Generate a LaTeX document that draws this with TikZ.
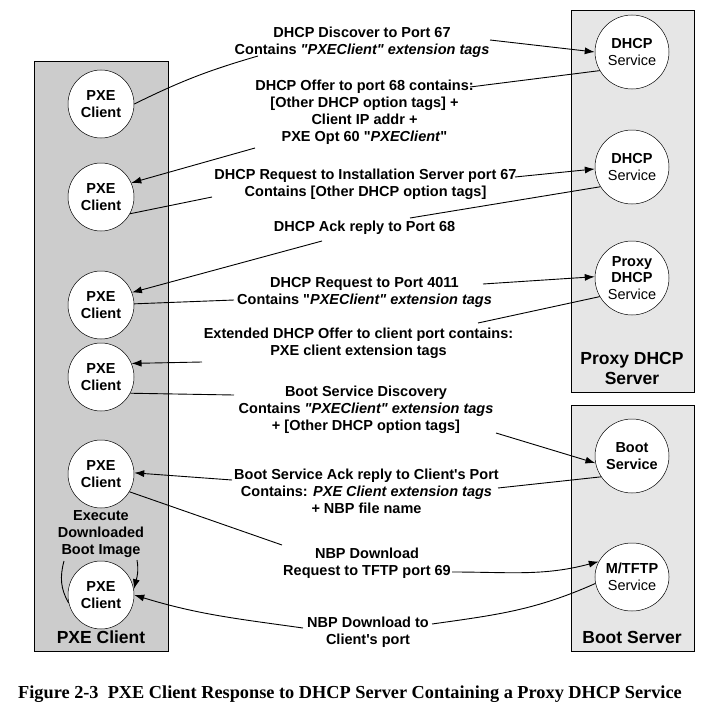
\documentclass[tikz,border=0pt]{standalone}
\usepackage{fontspec}
\setmainfont{Liberation Sans}
\newfontfamily\capfont{Liberation Serif}
\usetikzlibrary{shapes.geometric,arrows.meta}
\definecolor{lgray}{RGB}{204,204,204}
\definecolor{rgray}{RGB}{230,230,230}
\newcommand{\dq}{\textquotedbl}
\newcommand{\sq}{\textquotesingle}
\begin{document}
\begin{tikzpicture}[x=1pt,y=-1pt,
  lbl/.style={font=\fontsize{14.5}{17}\selectfont\bfseries, align=center, inner sep=0pt},
  pxe/.style={ellipse, draw, fill=white, minimum width=66pt, minimum height=68pt, inner sep=0pt, align=center, font=\fontsize{14.5}{16.5}\selectfont\bfseries, line width=0.5pt},
  svc/.style={pxe, minimum width=74pt, minimum height=74pt},
  conn/.style={line width=0.9pt},
  arr/.style={conn, -{Latex[length=10pt,width=7pt]}},
  panel/.style={draw, line width=0.8pt},
  big/.style={font=\fontsize{17.5}{20}\selectfont\bfseries, align=center, inner sep=0pt}
]
\useasboundingbox (0,0) rectangle (728,709);
\fill[white] (0,0) rectangle (728,709);
% panels
\draw[panel, fill=lgray] (34,61) rectangle (168,651);
\draw[panel, fill=rgray] (571,10) rectangle (694,392);
\draw[panel, fill=rgray] (571,405) rectangle (694,651);
% client circles
\node[pxe] (p1) at (101,104) {PXE\\Client};
\node[pxe] (p2) at (101,197) {PXE\\Client};
\node[pxe] (p3) at (101,305) {PXE\\Client};
\node[pxe] (p4) at (101,377) {PXE\\Client};
\node[pxe] (p5) at (101,474) {PXE\\Client};
\node[pxe] (p6) at (101,595) {PXE\\Client};
% service circles
\node[svc] (d1) at (632,52) {DHCP\\{\mdseries Service}};
\node[svc] (d2) at (632,167) {DHCP\\{\mdseries Service}};
\node[svc] (px) at (632,278) {Proxy\\DHCP\\{\mdseries Service}};
\node[svc] (bs) at (632,456) {Boot\\Service};
\node[pxe] (mt) at (632,577) {M/TFTP\\{\mdseries Service}};
% panel labels
\node[big] (lp) at (632,368) {Proxy DHCP\\Server};
\node[big] (lb) at (632,637) {Boot Server};
\node[big] (lc) at (101,637) {PXE Client};
\node[lbl] (ex) at (101,534) {Execute\\Downloaded\\Boot Image};
% message labels
\node[lbl] (t1) at (362,42.5) {DHCP Discover to Port 67\\Contains \textit{\dq PXEClient\dq{} extension tags}};
\node[lbl] (t2) at (364.5,112) {DHCP Offer to port 68 contains:\\{[Other DHCP option tags] +}\\Client IP addr +\\PXE Opt 60 \dq\textit{PXEClient}\dq};
\node[lbl] (t3) at (365.5,184.5) {DHCP Request to Installation Server port 67\\Contains [Other DHCP option tags]};
\node[lbl] (t4) at (364.5,228) {DHCP Ack reply to Port 68};
\node[lbl] (t5) at (364.5,292) {DHCP Request to Port 4011\\Contains \dq\textit{PXEClient\dq{} extension tags}};
\node[lbl] (t6) at (358.5,343.5) {Extended DHCP Offer to client port contains:\\PXE client extension tags};
\node[lbl] (t7) at (366,409.5) {Boot Service Discovery\\Contains \textit{\dq PXEClient\dq{} extension tags}\\+ [Other DHCP option tags]};
\node[lbl] (t8) at (366.5,491.5) {Boot Service Ack reply to Client\sq s Port\\Contains: \textit{PXE Client extension tags}\\+ NBP file name};
\node[lbl] (t9) at (367,563.5) {NBP Download\\Request to TFTP port 69};
\node[lbl] (t10) at (368,632.5) {NBP Download to\\Client\sq s port};
% caption
\node[inner sep=0pt, font=\capfont\bfseries\fontsize{18.3}{20}\selectfont] (cap) at (350,694) {Figure 2-3\ \ PXE Client Response to DHCP Server Containing a Proxy DHCP Service};
% free ends of connectors
\coordinate (a1) at (258,56);  \coordinate (b1) at (490,40);
\coordinate (a2) at (470,87);  \coordinate (b2) at (255,148);
\coordinate (a3) at (212,197); \coordinate (b3) at (515,177);
\coordinate (a4) at (410,218); \coordinate (b4) at (322,241);
\coordinate (a5) at (234,300); \coordinate (b5) at (483,284);
\coordinate (a6) at (478,323); \coordinate (b6) at (202,362);
\coordinate (a7) at (234,395); \coordinate (b7) at (496,433);
\coordinate (a8) at (498,488); \coordinate (b8) at (232,480);
\coordinate (a9) at (282,545); \coordinate (b9) at (452,572);
\coordinate (a10) at (432,624); \coordinate (b10) at (303,628);
\coordinate (l1) at (64,561);  \coordinate (r1) at (137,560);
% connectors
\draw[conn] (p1.0) to[bend left=5] (a1);
\draw[arr] (b1) -- (d1.180);
\draw[conn] (d1.210) -- (a2);
\draw[arr] (b2) -- (p2.25);
\draw[conn] (p2.-30) -- (a3);
\draw[arr] (b3) -- (d2.183);
\draw[conn] (d2.212) -- (a4);
\draw[arr] (b4) -- (p3.22);
\draw[conn] (p3.2) -- (a5);
\draw[arr] (b5) -- (px.178);
\draw[conn] (px.210) -- (a6);
\draw[arr] (b6) -- (p4.24);
\draw[conn] (p4.-29) -- (a7);
\draw[arr] (b7) -- (bs.191);
\draw[conn] (bs.214) -- (a8);
\draw[arr] (b8) -- (p5.2);
\draw[conn] (p5.-32) -- (a9);
\draw[arr] (b9) to[out=0,in=195] (mt.155);
\draw[conn] (mt.190) to[out=204,in=8] (a10);
\draw[arr] (b10) to[out=172,in=-17] (p6.0);
\draw[conn] (l1) to[out=-105,in=120] (p6.194);
\draw[arr] (r1) to[out=-80,in=75] (p6.10);
\end{tikzpicture}
\end{document}
